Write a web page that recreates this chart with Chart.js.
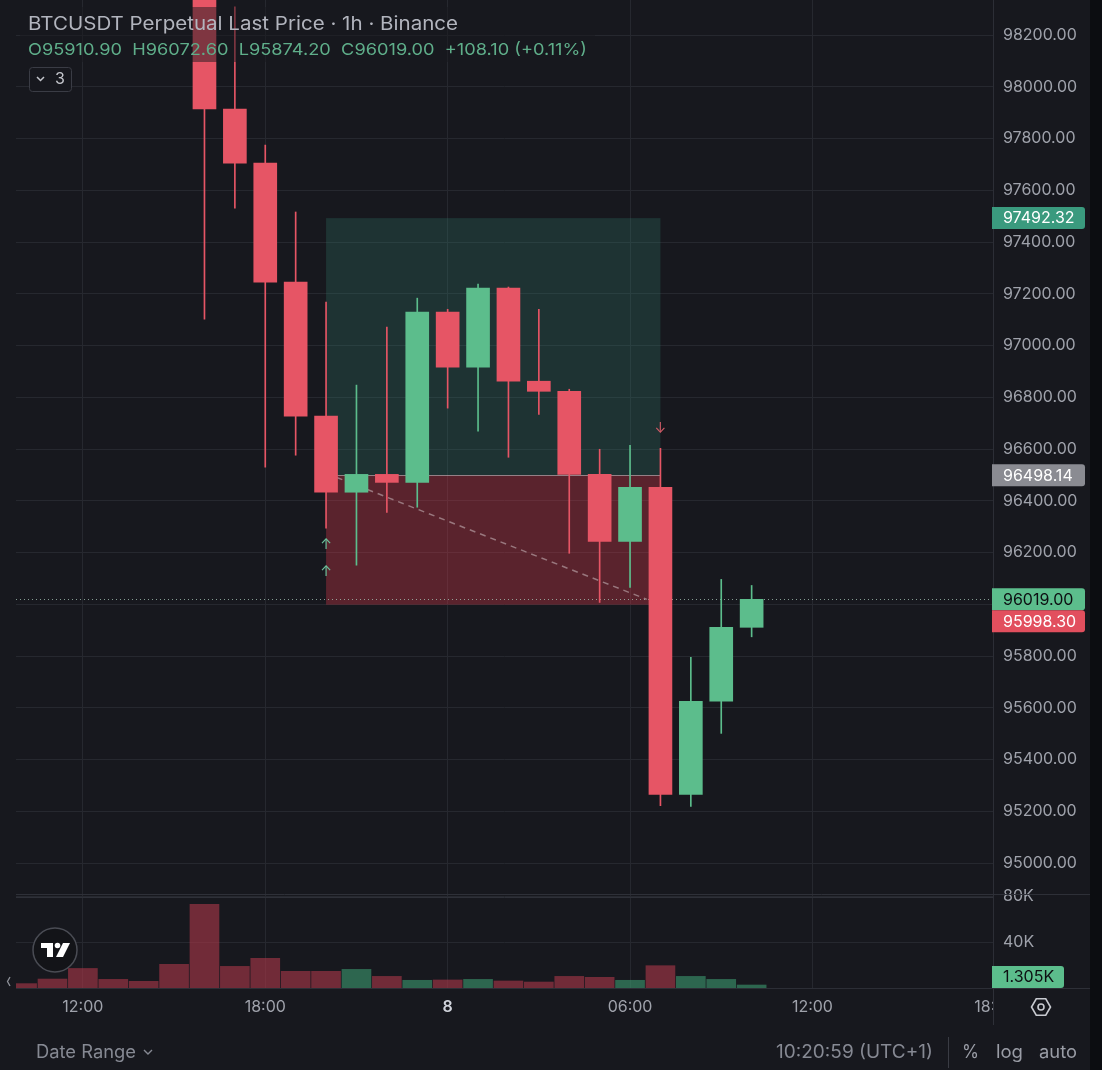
<!DOCTYPE html>
<html>
<head>
<meta charset="utf-8">
<script src="https://cdn.jsdelivr.net/npm/chart.js@4.4.1/dist/chart.umd.min.js"></script>
<style>
  html, body { margin: 0; padding: 0; background: #17181e; overflow: hidden; }
  canvas { display: block; }
</style>
</head>
<body>
<canvas id="chart" width="1102" height="1070"></canvas>
<script>
// Hourly candles, hour index counted from 00:00 on the 7th (24 = "8")
const hours   = [10, 11, 12, 13, 14, 15, 16, 17, 18, 19, 20, 21, 22, 23, 24, 25, 26, 27, 28, 29, 30, 31, 32, 33, 34];
const opens   = [99050, 98990, 98860, 98650, 98600, 98560, 98420, 97914, 97705, 97245, 96727, 96433, 96502, 96471, 97129, 96916, 97222, 96862, 96823, 96502, 96243, 96452, 95265, 95625, 95910.9];
const highs   = [99120, 99040, 98900, 98720, 98680, 98620, 98470, 98308, 97775, 97516, 97168, 96847, 97071, 97183, 97140, 97237, 97226, 97140, 96831, 96599, 96614, 96603, 95795, 96096, 96072.6];
const lows    = [98950, 98820, 98600, 98560, 98520, 98380, 97102, 97531, 96530, 96576, 96294, 96151, 96355, 96375, 96758, 96669, 96568, 96734, 96197, 96007, 96065, 95222, 95219, 95501, 95874.2];
const closes  = [98990, 98860, 98650, 98600, 98560, 98420, 97914, 97705, 97245, 96727, 96433, 96502, 96471, 97129, 96916, 97222, 96862, 96823, 96502, 96243, 96452, 95265, 95625, 95910.9, 96019];
const volumes = [3800, 7800, 17000, 7500, 5800, 20600, 72800, 18800, 25800, 14500, 14500, 16200, 10100, 6700, 7000, 7500, 6100, 5200, 10100, 9300, 6700, 19400, 10100, 7500, 1305];

// Long position tool
const posStart = 20, posEnd = 31;
const takeProfit = 97492.32, entryPrice = 96498.14, stopLoss = 95998.30;
const lastPrice = 96019.00;

// Axis ticks
const timeTicks = [12, 18, 24, 30, 36];
const priceStep = 200;
const volTicks = [40000, 80000];

const UP = '#5cbd8c', DOWN = '#e65565';
const UP_VOL = 'rgba(60,150,110,0.62)', DOWN_VOL = 'rgba(170,55,72,0.62)';
const GRID = '#26282f';
const TICK = '#9fa2ab';
const FONT = 'Inter, "Noto Sans", sans-serif';

const isUp = i => closes[i] >= opens[i];

const fmtHour = v => v === 24 ? '8' : String(v % 24).padStart(2, '0') + ':00';

// draw text stretched to a target width (the screenshot font runs wider than Inter)
const fitText = (ctx, text, x, y, w) => {
  const m = ctx.measureText(text).width;
  ctx.save();
  ctx.translate(x, y);
  ctx.scale(w / m, 1);
  ctx.fillText(text, 0, 0);
  ctx.restore();
};

const noPad = s => { s.paddingTop = 0; s.paddingBottom = 0; s.paddingLeft = 0; s.paddingRight = 0; };

const overlay = {
  id: 'overlay',
  beforeDatasetsDraw(chart) {
    const { ctx, scales: { x, y }, chartArea } = chart;
    const xl = x.getPixelForValue(posStart), xr = x.getPixelForValue(posEnd);
    const yT = y.getPixelForValue(takeProfit), yE = y.getPixelForValue(entryPrice), yS = y.getPixelForValue(stopLoss);
    ctx.save();
    ctx.fillStyle = 'rgba(50,130,115,0.25)';
    ctx.fillRect(xl, yT, xr - xl, yE - yT);
    ctx.fillStyle = 'rgba(220,60,75,0.34)';
    ctx.fillRect(xl, yE, xr - xl, yS - yE);
    ctx.strokeStyle = 'rgba(205,190,195,0.6)';
    ctx.lineWidth = 1;
    ctx.beginPath();
    ctx.moveTo(xl, Math.round(yE) + 0.5);
    ctx.lineTo(xr, Math.round(yE) + 0.5);
    ctx.stroke();
    // last price dotted line
    const yL = Math.round(y.getPixelForValue(lastPrice)) + 0.5;
    ctx.strokeStyle = 'rgba(170,200,185,0.75)';
    ctx.setLineDash([1, 3]);
    ctx.beginPath();
    ctx.moveTo(chartArea.left, yL);
    ctx.lineTo(chartArea.right, yL);
    ctx.stroke();
    ctx.restore();
  },
  afterDatasetsDraw(chart) {
    const { ctx, scales: { x } } = chart;
    ctx.save();
    // legend shade
    ctx.fillStyle = 'rgba(23,24,30,0.5)';
    ctx.fillRect(20, 7, 575, 55);
    // arrows
    ctx.font = '14px ' + FONT;
    ctx.textAlign = 'center';
    ctx.textBaseline = 'middle';
    ctx.fillStyle = '#6cc29c';
    ctx.fillText('↑', x.getPixelForValue(posStart), 545);
    ctx.fillText('↑', x.getPixelForValue(posStart), 572);
    ctx.fillStyle = '#d05a66';
    ctx.fillText('↓', x.getPixelForValue(posEnd), 429);
    ctx.restore();
  },
  afterDraw(chart) {
    const { ctx, scales: { x, y, vol }, chartArea } = chart;
    ctx.save();
    // pane separator
    ctx.strokeStyle = '#2e3038';
    ctx.lineWidth = 1;
    ctx.beginPath();
    ctx.moveTo(chartArea.left, 894.5); ctx.lineTo(1090, 894.5);
    ctx.moveTo(chartArea.left, 897.5); ctx.lineTo(chartArea.right, 897.5);
    ctx.moveTo(chartArea.right + 0.5, chartArea.bottom); ctx.lineTo(chartArea.right + 0.5, 1025);
    ctx.moveTo(chartArea.right, chartArea.bottom + 0.5); ctx.lineTo(1090, chartArea.bottom + 0.5);
    ctx.stroke();

    // clipped "18:00" tick at the right edge
    ctx.save();
    ctx.beginPath(); ctx.rect(chartArea.left, chartArea.bottom, chartArea.right - chartArea.left, 40); ctx.clip();
    ctx.font = '16px ' + FONT;
    ctx.fillStyle = TICK;
    ctx.textAlign = 'center'; ctx.textBaseline = 'middle';
    ctx.fillText('18:00', x.getPixelForValue(42), 1007);
    ctx.restore();

    // price labels on the axis
    const tag = (text, py, bg, fg, w) => {
      ctx.fillStyle = bg;
      ctx.beginPath();
      ctx.roundRect(992, py - 11, w, 22, [0, 3, 3, 0]);
      ctx.fill();
      ctx.fillStyle = fg;
      ctx.font = '16px ' + FONT;
      ctx.textAlign = 'left'; ctx.textBaseline = 'middle';
      ctx.fillText(text, 1003, py + 0.5);
    };
    const yLast = y.getPixelForValue(lastPrice);
    tag(takeProfit.toFixed(2), y.getPixelForValue(takeProfit), '#3a9a7e', '#ffffff', 93);
    tag(entryPrice.toFixed(2), y.getPixelForValue(entryPrice), '#8a8b92', '#ffffff', 93);
    tag(lastPrice.toFixed(2), yLast, UP, '#0d0f12', 93);
    tag(stopLoss.toFixed(2), Math.max(y.getPixelForValue(stopLoss), yLast + 22), '#e24f5e', '#ffffff', 93);
    const lastVol = volumes[volumes.length - 1];
    tag((lastVol / 1000).toFixed(3) + 'K', Math.min(vol.getPixelForValue(lastVol), vol.bottom - 11), UP, '#0d0f12', 72);

    // title + OHLC legend
    ctx.textAlign = 'left'; ctx.textBaseline = 'middle';
    ctx.font = '18.5px ' + FONT;
    ctx.fillStyle = '#b2b5be';
    fitText(ctx, 'BTCUSDT Perpetual Last Price · 1h · Binance', 28, 24, 430);
    const n = closes.length - 1;
    const chg = closes[n] - closes[n - 1];
    ctx.font = '16.5px ' + FONT;
    ctx.fillStyle = '#5fae8a';
    fitText(ctx, 'O' + opens[n].toFixed(2) + '  H' + highs[n].toFixed(2) + '  L' + lows[n].toFixed(2) + '  C' + closes[n].toFixed(2) +
      '  +' + chg.toFixed(2) + ' (+' + (chg / closes[n - 1] * 100).toFixed(2) + '%)', 28, 50, 559);
    // collapsed indicators button
    ctx.strokeStyle = '#3a3c45';
    ctx.fillStyle = '#17181e';
    ctx.lineWidth = 1;
    ctx.beginPath(); ctx.roundRect(29.5, 67.5, 42, 24, 3); ctx.fill(); ctx.stroke();
    ctx.strokeStyle = '#c4c6cc'; ctx.lineWidth = 1.5;
    ctx.beginPath(); ctx.moveTo(37, 77); ctx.lineTo(40.5, 80.5); ctx.lineTo(44, 77); ctx.stroke();
    ctx.fillStyle = '#c4c6cc'; ctx.font = '16px ' + FONT;
    ctx.fillText('3', 55, 79);

    // TV logo
    ctx.fillStyle = '#131418'; ctx.strokeStyle = '#4a4c54'; ctx.lineWidth = 1.5;
    ctx.beginPath(); ctx.arc(55, 950, 22, 0, Math.PI * 2); ctx.fill(); ctx.stroke();
    ctx.fillStyle = '#ffffff';
    ctx.fillRect(41, 943, 12, 5);
    ctx.fillRect(47, 943, 6, 14);
    ctx.beginPath(); ctx.arc(57.5, 945.5, 2.8, 0, Math.PI * 2); ctx.fill();
    ctx.beginPath(); ctx.moveTo(63, 943); ctx.lineTo(70, 943); ctx.lineTo(63, 957); ctx.lineTo(56, 957); ctx.closePath(); ctx.fill();

    // left scroll chevron
    ctx.strokeStyle = '#8e9199'; ctx.lineWidth = 1.3;
    ctx.beginPath(); ctx.moveTo(10, 977); ctx.lineTo(7.5, 981.5); ctx.lineTo(10, 986); ctx.stroke();

    // settings hexagon
    ctx.strokeStyle = '#c8cad0'; ctx.lineWidth = 1.6;
    ctx.beginPath();
    for (let k = 0; k < 6; k++) {
      const a = Math.PI / 3 * k;
      const px = 1041 + 9.5 * Math.cos(a), py = 1007 + 9.5 * Math.sin(a);
      k === 0 ? ctx.moveTo(px, py) : ctx.lineTo(px, py);
    }
    ctx.closePath(); ctx.stroke();
    ctx.beginPath(); ctx.arc(1041, 1007, 3, 0, Math.PI * 2); ctx.stroke();

    // bottom toolbar
    ctx.font = '18px ' + FONT;
    ctx.fillStyle = '#868993';
    ctx.textAlign = 'left';
    fitText(ctx, 'Date Range', 36, 1053, 100);
    ctx.strokeStyle = '#868993'; ctx.lineWidth = 1.4;
    ctx.beginPath(); ctx.moveTo(144, 1050); ctx.lineTo(148, 1054); ctx.lineTo(152, 1050); ctx.stroke();
    fitText(ctx, '10:20:59 (UTC+1)', 776, 1053, 157);
    ctx.strokeStyle = '#3a3c44'; ctx.lineWidth = 1;
    ctx.beginPath(); ctx.moveTo(948.5, 1037); ctx.lineTo(948.5, 1068); ctx.stroke();
    ctx.fillStyle = '#9a9da6';
    fitText(ctx, '%', 962, 1053, 17);
    fitText(ctx, 'log', 996, 1053, 27);
    fitText(ctx, 'auto', 1039, 1053, 38);

    // right dark strip
    ctx.fillStyle = '#0c0d11';
    ctx.fillRect(1090, 0, 12, 1070);
    ctx.restore();
  }
};

new Chart(document.getElementById('chart'), {
  data: {
    datasets: [
      {
        type: 'bar',
        label: 'Body',
        data: hours.map((h, i) => ({ x: h, y: [opens[i], closes[i]] })),
        backgroundColor: hours.map((h, i) => isUp(i) ? UP : DOWN),
        barThickness: 23,
        minBarLength: 1,
        yAxisID: 'y'
      },
      {
        type: 'bar',
        label: 'Wick',
        data: hours.map((h, i) => ({ x: h, y: [lows[i], highs[i]] })),
        backgroundColor: hours.map((h, i) => isUp(i) ? UP : DOWN),
        barThickness: 1,
        yAxisID: 'y'
      },
      {
        type: 'bar',
        label: 'Volume',
        data: hours.map((h, i) => ({ x: h, y: volumes[i] })),
        backgroundColor: hours.map((h, i) => isUp(i) ? UP_VOL : DOWN_VOL),
        barThickness: 29,
        minBarLength: 3,
        yAxisID: 'vol'
      },
      {
        type: 'line',
        label: 'Entry to last',
        data: [{ x: 20.35, y: 96490 }, { x: 30.55, y: lastPrice }],
        borderColor: 'rgba(195,175,180,0.6)',
        borderWidth: 1.5,
        borderDash: [6, 5],
        pointRadius: 0,
        yAxisID: 'y'
      }
    ]
  },
  options: {
    responsive: false,
    animation: false,
    layout: { padding: { left: 16, top: 0, right: 0, bottom: 0 } },
    datasets: { bar: { grouped: false } },
    plugins: { legend: { display: false }, tooltip: { enabled: false } },
    scales: {
      x: {
        type: 'linear',
        position: 'bottom',
        offset: false,
        min: 9.8,
        max: 41.94,
        afterBuildTicks: s => { s.ticks = timeTicks.map(v => ({ value: v })); },
        afterFit: s => { s.height = 82; noPad(s); },
        ticks: {
          autoSkip: false,
          maxRotation: 0,
          padding: 10,
          callback: v => fmtHour(v),
          color: c => c.tick && c.tick.value === 24 ? '#d1d4dc' : TICK,
          font: c => ({ family: FONT, size: 16, weight: c.tick && c.tick.value === 24 ? '600' : '400' })
        },
        grid: { color: GRID, drawTicks: false, offset: false },
        border: { color: '#2c2e36' }
      },
      y: {
        type: 'linear',
        position: 'right',
        stack: 'panes',
        stackWeight: 893,
        min: 94884.1,
        max: 98335.3,
        afterBuildTicks: s => {
          const t = [];
          for (let v = Math.ceil(s.min / priceStep) * priceStep; v <= s.max; v += priceStep) t.push({ value: v });
          s.ticks = t;
        },
        afterFit: s => { s.width = 109; noPad(s); },
        ticks: {
          autoSkip: false,
          padding: 10,
          crossAlign: 'near',
          color: TICK,
          font: { family: FONT, size: 16 },
          callback: v => v.toFixed(2)
        },
        grid: { color: GRID, drawTicks: false },
        border: { color: '#2c2e36' }
      },
      vol: {
        type: 'linear',
        position: 'right',
        stack: 'panes',
        stackWeight: 95,
        min: 0,
        max: 82609,
        afterBuildTicks: s => { s.ticks = volTicks.map(v => ({ value: v })); },
        afterFit: s => { s.width = 109; noPad(s); },
        ticks: {
          autoSkip: false,
          padding: 10,
          crossAlign: 'near',
          color: TICK,
          font: { family: FONT, size: 16 },
          callback: v => (v / 1000) + 'K'
        },
        grid: { color: GRID, drawTicks: false },
        border: { color: '#2c2e36' }
      }
    }
  },
  plugins: [overlay]
});
</script>
</body>
</html>
